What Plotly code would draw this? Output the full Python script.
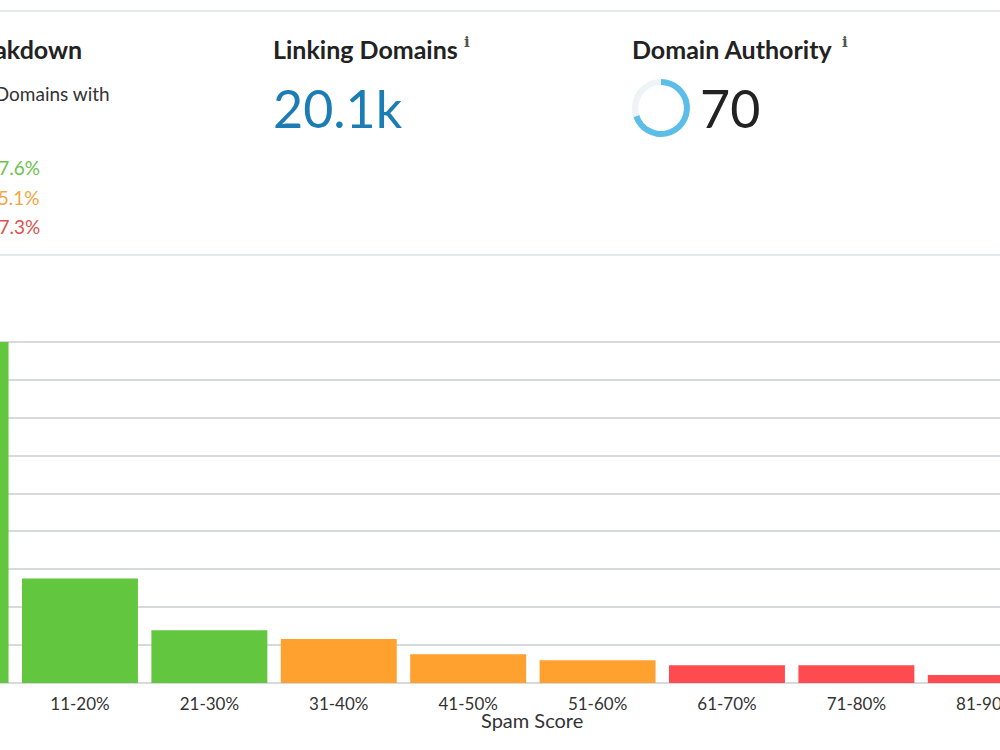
import plotly.graph_objects as go

# ---- data ----
categories = ["1-10%", "11-20%", "21-30%", "31-40%", "41-50%",
              "51-60%", "61-70%", "71-80%", "81-90%"]
domain_counts = [9000, 2760, 1390, 1160, 760, 600, 470, 470, 210]
bar_colors = ["#62c63f", "#62c63f", "#62c63f",
              "#fea12e", "#fea12e", "#fea12e",
              "#fe4b4f", "#fe4b4f", "#fe4b4f"]

breakdown_labels = ["Low Spam Score (1-30%): 77.6%",
                    "Medium Spam Score (31-60%): 15.1%",
                    "High Spam Score (61-100%): 7.3%"]
breakdown_colors = ["#6cc24a", "#f2a541", "#dc5350"]

linking_domains = "20.1k"
domain_authority = 70

W, H = 1000, 750
Y_MAX = 9100
base_px, grid_top_px = 683, 342
top_px = base_px - (base_px - grid_top_px) * Y_MAX / 9000


def px(x):
    return x / W


def py(y):
    return (H - y) / H


fig = go.Figure()

fig.add_trace(go.Bar(
    x=categories, y=domain_counts,
    marker=dict(color=bar_colors, line=dict(width=0)),
    hoverinfo="x+y", showlegend=False,
))

fig.add_trace(go.Pie(
    values=[domain_authority, 100 - domain_authority],
    marker=dict(colors=["#5bbde8", "#eef3f5"], line=dict(width=0)),
    hole=0.79, sort=False, direction="clockwise", rotation=0,
    textinfo="none", hoverinfo="skip", showlegend=False,
    domain=dict(x=[px(632), px(690)], y=[py(137), py(79)]),
))

font = "Lato, 'Open Sans', sans-serif"
ann = []


def text(t, x, y, size, color, xanchor="left", bold=False, family=font):
    if bold:
        t = "<b>" + t + "</b>"
    ann.append(dict(text=t, x=px(x), y=py(y), xref="paper", yref="paper",
                    xanchor=xanchor, yanchor="middle", showarrow=False,
                    font=dict(family=family, size=size, color=color)))


text("Spam Score Breakdown", 84, 49, 25, "#222222", xanchor="right", bold=True)
text("Percent of Linking Domains with", 112, 93, 19, "#333333", xanchor="right")
for i, (lab, col) in enumerate(zip(breakdown_labels, breakdown_colors)):
    text(lab, 42, 167 + 30 * i, 19, col, xanchor="right")

text("Linking Domains", 271, 49, 25, "#222222", bold=True)
text("i", 462, 42, 15, "#555555", bold=True, family="DejaVu Serif")
text(linking_domains, 271, 108, 52, "#1c7db4")

text("Domain Authority", 630, 49, 25, "#222222", bold=True)
text("i", 840, 42, 15, "#555555", bold=True, family="DejaVu Serif")
text(str(domain_authority), 698, 108, 52, "#222222")

text("Spam Score", 532, 720, 20, "#333333", xanchor="center")

shapes = [
    dict(type="line", xref="paper", yref="paper", x0=0, x1=1,
         y0=py(11), y1=py(11), line=dict(color="#e4e9eb", width=2)),
    dict(type="line", xref="paper", yref="paper", x0=0, x1=1,
         y0=py(255), y1=py(255), line=dict(color="#e4e9eb", width=2)),
]

fig.update_layout(
    width=W, height=H,
    margin=dict(l=0, r=0, t=0, b=0),
    paper_bgcolor="white", plot_bgcolor="white",
    bargap=0.104,
    annotations=ann, shapes=shapes,
    xaxis=dict(domain=[0, 1], range=[0.382, 8.11], type="category",
               showgrid=False, zeroline=False, showline=False,
               tickfont=dict(family=font, size=17, color="#333333"),
               ticks="", ticklabelstandoff=9, automargin=False,
               fixedrange=True),
    yaxis=dict(domain=[py(base_px), py(top_px)], range=[0, Y_MAX], dtick=1000,
               showgrid=True, gridcolor="#d6dadc", gridwidth=1.5,
               zeroline=True, zerolinecolor="#d6dadc", zerolinewidth=1.5,
               showticklabels=False, automargin=False, fixedrange=True),
)

fig.write_html("out.html")
